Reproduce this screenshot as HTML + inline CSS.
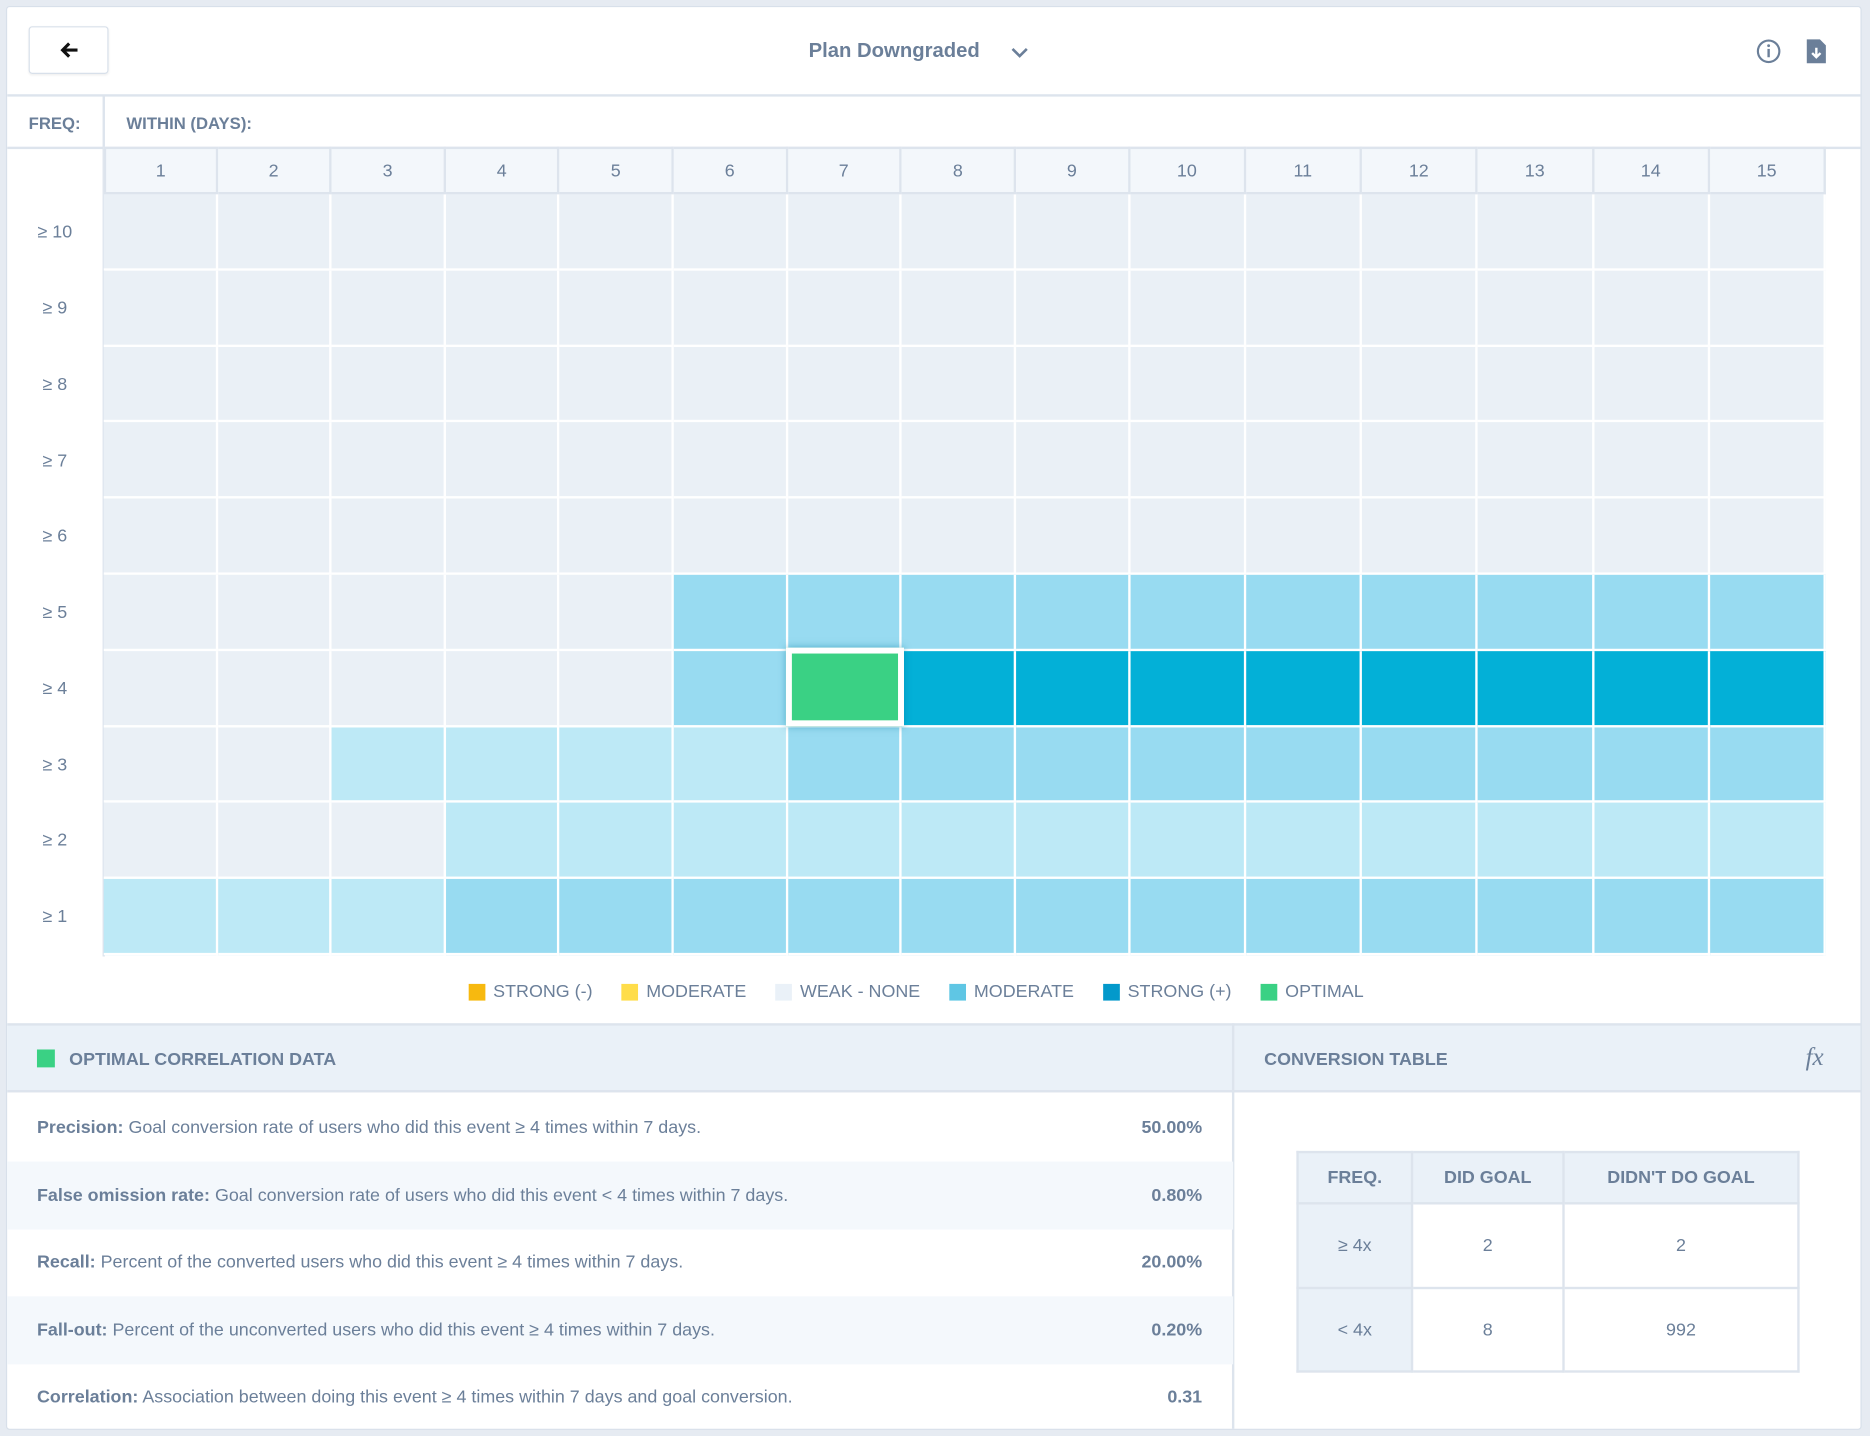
<!DOCTYPE html>
<html><head><meta charset="utf-8"><style>
*{box-sizing:border-box;margin:0;padding:0}
html,body{width:1870px;height:1436px;overflow:hidden;background:#e6ebf2}
body{font-family:"Liberation Sans",Arial,sans-serif;color:#6b7f99}
#w{position:absolute;left:0;top:0;width:1568px;height:1204px;transform:scale(1.19260);transform-origin:0 0}
.card{position:absolute;left:5px;top:5px;width:1556px;height:1194px;background:#fff;border:1px solid #d8e0ea;border-radius:3px;overflow:hidden}
.abs{position:absolute}
.b{font-weight:bold}
.hline{position:absolute;height:2px;background:#dde4ed}
.vline{position:absolute;width:2px;background:#dde4ed}
.grid{position:absolute;left:81px;top:117px;width:1444px;display:grid;grid-template-columns:repeat(9,95.55fr) repeat(6,97.17fr);gap:0}
.h{height:40px;background:#f3f7fb;border-right:2px solid #dde4ed;border-bottom:2px solid #dde4ed;border-top:2px solid #dde4ed;display:flex;align-items:center;justify-content:center;font-size:15px}
.h:first-child{border-left:2px solid #dde4ed}
.c{height:63.8px;border-right:2px solid #fff;border-bottom:2px solid #fff}
.W{background:#eaf0f6}.L{background:#bde9f6}.M{background:#98dbf1}.S{background:#03b0d7}
.O{background:#3ad184;border:5px solid #fff;box-shadow:0 0 6px rgba(0,120,160,.5);position:relative;z-index:2;margin:-3px -2px 0 -2px;height:66px}
.rl{position:absolute;left:0;width:80px;text-align:center;font-size:15px}
.leg{position:absolute;top:817px;left:0;width:100%;padding-right:30px;display:flex;justify-content:center;font-size:15px;gap:0}
.leg span{display:flex;align-items:center;margin:0 12px}
.leg i{display:inline-block;width:14px;height:14px;margin-right:7px}
.row{position:absolute;left:0;width:1028px;height:56.5px;display:flex;align-items:center;justify-content:space-between;padding:0 26px 0 25px;font-size:15px}
.alt{background:#f4f8fc}
table{position:absolute;left:1081px;top:959px;width:422px;border-collapse:collapse;font-size:15px}
td{border:2px solid #dde4ed;text-align:center}
.th td{background:#eaf1f8;height:43px;font-weight:bold}
.fc{background:#eaf1f8}
</style></head><body><div id="w"><div class="card">
<div class="abs" style="left:18px;top:16px;width:67px;height:40px;border:1.5px solid #d8e0ea;border-radius:3px;box-shadow:0 1px 2px rgba(0,0,0,.06);display:flex;align-items:center;justify-content:center">
<svg width="16" height="14"><path d="M15 7 H3 M8 1.5 L2.5 7 L8 12.5" stroke="#111" stroke-width="2.6" fill="none"/></svg></div>
<div class="abs b" style="left:672px;top:27px;font-size:17px">Plan Downgraded</div>
<svg class="abs" style="left:841px;top:32px" width="16" height="12"><path d="M2 3 L8 9 L14 3" stroke="#6b7f99" stroke-width="2.2" fill="none"/></svg>
<svg class="abs" style="left:1466px;top:26px" width="22" height="22"><circle cx="11" cy="11" r="9" stroke="#6b7f99" stroke-width="1.8" fill="none"/><rect x="10" y="9" width="2" height="7" fill="#6b7f99"/><circle cx="11" cy="6.3" r="1.2" fill="#6b7f99"/></svg>
<svg class="abs" style="left:1508px;top:26px" width="18" height="22"><path d="M1 1 H12 L17 6 V21 H1 Z" fill="#6b7f99"/><path d="M9 8 V16 M5.5 12.5 L9 16 L12.5 12.5" stroke="#fff" stroke-width="2" fill="none"/></svg>
<div class="hline" style="left:0;top:73px;width:1556px"></div>
<div class="abs b" style="left:18px;top:89px;font-size:14px">FREQ:</div>
<div class="abs b" style="left:100px;top:89px;font-size:14px">WITHIN (DAYS):</div>
<div class="vline" style="left:80px;top:74px;height:722px"></div>
<div class="hline" style="left:0;top:117px;width:1556px"></div>
<div class="grid">
<div class="h">1</div><div class="h">2</div><div class="h">3</div><div class="h">4</div><div class="h">5</div><div class="h">6</div><div class="h">7</div><div class="h">8</div><div class="h">9</div><div class="h">10</div><div class="h">11</div><div class="h">12</div><div class="h">13</div><div class="h">14</div><div class="h">15</div>
<div class="c W"></div><div class="c W"></div><div class="c W"></div><div class="c W"></div><div class="c W"></div><div class="c W"></div><div class="c W"></div><div class="c W"></div><div class="c W"></div><div class="c W"></div><div class="c W"></div><div class="c W"></div><div class="c W"></div><div class="c W"></div><div class="c W"></div>
<div class="c W"></div><div class="c W"></div><div class="c W"></div><div class="c W"></div><div class="c W"></div><div class="c W"></div><div class="c W"></div><div class="c W"></div><div class="c W"></div><div class="c W"></div><div class="c W"></div><div class="c W"></div><div class="c W"></div><div class="c W"></div><div class="c W"></div>
<div class="c W"></div><div class="c W"></div><div class="c W"></div><div class="c W"></div><div class="c W"></div><div class="c W"></div><div class="c W"></div><div class="c W"></div><div class="c W"></div><div class="c W"></div><div class="c W"></div><div class="c W"></div><div class="c W"></div><div class="c W"></div><div class="c W"></div>
<div class="c W"></div><div class="c W"></div><div class="c W"></div><div class="c W"></div><div class="c W"></div><div class="c W"></div><div class="c W"></div><div class="c W"></div><div class="c W"></div><div class="c W"></div><div class="c W"></div><div class="c W"></div><div class="c W"></div><div class="c W"></div><div class="c W"></div>
<div class="c W"></div><div class="c W"></div><div class="c W"></div><div class="c W"></div><div class="c W"></div><div class="c W"></div><div class="c W"></div><div class="c W"></div><div class="c W"></div><div class="c W"></div><div class="c W"></div><div class="c W"></div><div class="c W"></div><div class="c W"></div><div class="c W"></div>
<div class="c W"></div><div class="c W"></div><div class="c W"></div><div class="c W"></div><div class="c W"></div><div class="c M"></div><div class="c M"></div><div class="c M"></div><div class="c M"></div><div class="c M"></div><div class="c M"></div><div class="c M"></div><div class="c M"></div><div class="c M"></div><div class="c M"></div>
<div class="c W"></div><div class="c W"></div><div class="c W"></div><div class="c W"></div><div class="c W"></div><div class="c M"></div><div class="c O"></div><div class="c S"></div><div class="c S"></div><div class="c S"></div><div class="c S"></div><div class="c S"></div><div class="c S"></div><div class="c S"></div><div class="c S"></div>
<div class="c W"></div><div class="c W"></div><div class="c L"></div><div class="c L"></div><div class="c L"></div><div class="c L"></div><div class="c M"></div><div class="c M"></div><div class="c M"></div><div class="c M"></div><div class="c M"></div><div class="c M"></div><div class="c M"></div><div class="c M"></div><div class="c M"></div>
<div class="c W"></div><div class="c W"></div><div class="c W"></div><div class="c L"></div><div class="c L"></div><div class="c L"></div><div class="c L"></div><div class="c L"></div><div class="c L"></div><div class="c L"></div><div class="c L"></div><div class="c L"></div><div class="c L"></div><div class="c L"></div><div class="c L"></div>
<div class="c L"></div><div class="c L"></div><div class="c L"></div><div class="c M"></div><div class="c M"></div><div class="c M"></div><div class="c M"></div><div class="c M"></div><div class="c M"></div><div class="c M"></div><div class="c M"></div><div class="c M"></div><div class="c M"></div><div class="c M"></div><div class="c M"></div>
</div>
<div class="rl" style="top:180px">≥ 10</div>
<div class="rl" style="top:244px">≥ 9</div>
<div class="rl" style="top:308px">≥ 8</div>
<div class="rl" style="top:372px">≥ 7</div>
<div class="rl" style="top:435px">≥ 6</div>
<div class="rl" style="top:499px">≥ 5</div>
<div class="rl" style="top:563px">≥ 4</div>
<div class="rl" style="top:627px">≥ 3</div>
<div class="rl" style="top:690px">≥ 2</div>
<div class="rl" style="top:754px">≥ 1</div>
<div class="leg">
<span><i style="background:#f7b90f"></i>STRONG (-)</span>
<span><i style="background:#ffdd4a"></i>MODERATE</span>
<span><i style="background:#eaf1f8"></i>WEAK - NONE</span>
<span><i style="background:#5fc6e4"></i>MODERATE</span>
<span><i style="background:#0399cb"></i>STRONG (+)</span>
<span><i style="background:#3ad184"></i>OPTIMAL</span>
</div>
<div class="abs" style="left:0;top:852px;width:1556px;height:58px;background:#eaf1f8;border-top:2px solid #dde4ed;border-bottom:2px solid #dde4ed"></div>
<div class="vline" style="left:1027px;top:852px;height:342px"></div>
<div class="abs" style="left:25px;top:874px;width:15px;height:15px;background:#3ad184"></div>
<div class="abs b" style="left:52px;top:874px;font-size:15px">OPTIMAL CORRELATION DATA</div>
<div class="abs b" style="left:1054px;top:874px;font-size:15px">CONVERSION TABLE</div>
<div class="abs" style="left:1508px;top:868px;font-size:21px;font-style:italic;font-family:'Liberation Serif',serif">fx</div>
<div class="row" style="top:911px"><span><b>Precision:</b> Goal conversion rate of users who did this event ≥ 4 times within 7 days.</span><b>50.00%</b></div>
<div class="row alt" style="top:968px"><span><b>False omission rate:</b> Goal conversion rate of users who did this event &lt; 4 times within 7 days.</span><b>0.80%</b></div>
<div class="row" style="top:1024px"><span><b>Recall:</b> Percent of the converted users who did this event ≥ 4 times within 7 days.</span><b>20.00%</b></div>
<div class="row alt" style="top:1081px"><span><b>Fall-out:</b> Percent of the unconverted users who did this event ≥ 4 times within 7 days.</span><b>0.20%</b></div>
<div class="row" style="top:1137px"><span><b>Correlation:</b> Association between doing this event ≥ 4 times within 7 days and goal conversion.</span><b>0.31</b></div>
<table>
<tr class="th"><td style="width:96px">FREQ.</td><td style="width:127px">DID GOAL</td><td>DIDN'T DO GOAL</td></tr>
<tr style="height:71px"><td class="fc">≥ 4x</td><td>2</td><td>2</td></tr>
<tr style="height:70px"><td class="fc" style="border-top-color:#eaf1f8">&lt; 4x</td><td>8</td><td>992</td></tr>
</table>
</div></div></body></html>
